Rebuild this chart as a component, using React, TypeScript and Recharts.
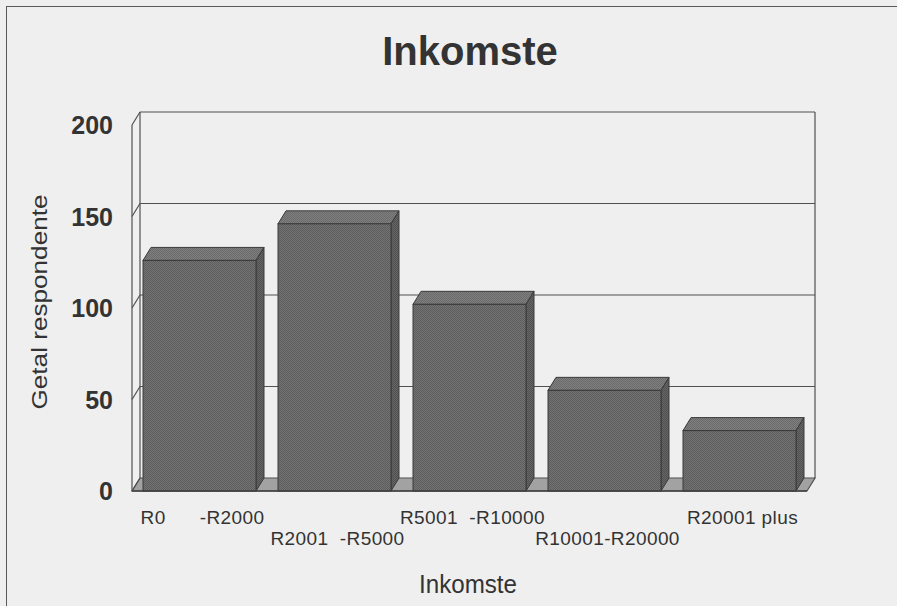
import React from "react";
import { BarChart, Bar, XAxis, YAxis, CartesianGrid, Label } from "recharts";

// Income brackets and number of respondents in each
const categories = ["R0      -R2000", "R2001  -R5000", "R5001  -R10000", "R10001-R20000", "R20001 plus"];
const respondents = [126, 146, 102, 55, 33];
const yTicks = [0, 50, 100, 150, 200];

const data = categories.map((name, i) => ({ name, value: respondents[i] }));

const W = 897;
const H = 606;
const PLOT_LEFT = 132;
const PLOT_TOP = 125;
const PLOT_RIGHT = 807;
const PLOT_BOTTOM = 491;
// depth of the pseudo-3D box (back wall offset from the front plane)
const DX = 8;
const DY = -13;

const FONT = "'Liberation Sans', Arial, sans-serif";
const LINE = "#505050";

const Column3D = (props: any) => {
  const { x, y, width, height } = props;
  if (!height || height <= 0) return null;
  const r = x + width;
  const b = y + height;
  return (
    <g stroke="#3a3a3a" strokeWidth={1}>
      <polygon
        points={`${x},${y} ${x + DX},${y + DY} ${r + DX},${y + DY} ${r},${y}`}
        fill="url(#topDots) #7a7a7a"
      />
      <polygon
        points={`${r},${y} ${r + DX},${y + DY} ${r + DX},${b + DY} ${r},${b}`}
        fill="url(#sideDots) #5c5c5c"
      />
      <rect x={x} y={y} width={width} height={height} fill="url(#frontDots) #6c6c6c" />
    </g>
  );
};

// each horizontal grid line becomes a back-wall line plus the slanted tick on the side wall
const WallLine = (props: any) => {
  const { x1, x2, y1, index } = props;
  const atFloor = Math.abs(y1 - PLOT_BOTTOM) < 1;
  const atTop = Math.abs(y1 - PLOT_TOP) < 1;
  return (
    <g key={`wall-${index}`} stroke={LINE} strokeWidth={1.2}>
      {atFloor ? (
        <polygon
          points={`${x1},${y1} ${x1 + DX},${y1 + DY} ${x2 + DX},${y1 + DY} ${x2},${y1}`}
          fill="#a2a2a2"
        />
      ) : (
        <line x1={x1 + DX} y1={y1 + DY} x2={x2 + DX} y2={y1 + DY} />
      )}
      <line x1={x1} y1={y1} x2={x1 + DX} y2={y1 + DY} />
      {atTop && (
        <>
          <line x1={x1 + DX} y1={y1 + DY} x2={x1 + DX} y2={PLOT_BOTTOM + DY} />
          <line x1={x2 + DX} y1={y1 + DY} x2={x2 + DX} y2={PLOT_BOTTOM + DY} />
        </>
      )}
    </g>
  );
};

const YTick = (props: any) => {
  const { y, payload } = props;
  return (
    <text
      x={PLOT_LEFT - 19}
      y={y}
      dy={9}
      textAnchor="end"
      fontFamily={FONT}
      fontWeight="bold"
      fontSize={25}
      fill="#333"
    >
      {payload.value}
    </text>
  );
};

// category labels alternate between two rows
const XTick = (props: any) => {
  const { x, payload, index } = props;
  const baseline = PLOT_BOTTOM + (index % 2 === 0 ? 33 : 54);
  return (
    <text
      x={x + 3}
      y={baseline}
      textAnchor="middle"
      fontFamily={FONT}
      fontSize={19}
      letterSpacing={0.4}
      fill="#333"
      xmlSpace="preserve"
      style={{ whiteSpace: "pre" }}
    >
      {payload.value}
    </text>
  );
};

const App = () => {
  return (
    <div
      style={{
        position: "fixed",
        left: 0,
        top: 0,
        width: W,
        height: H,
        overflow: "hidden",
        background: "#efefef",
      }}
    >
      <div
        style={{
          position: "absolute",
          left: 6,
          top: 6,
          width: W + 40,
          height: H + 40,
          border: "1.5px solid #5a5a5a",
        }}
      />
      <div
        style={{
          position: "absolute",
          left: 0,
          top: 31,
          width: 2 * 470,
          textAlign: "center",
          fontFamily: FONT,
          fontWeight: "bold",
          fontSize: 40,
          lineHeight: "40px",
          color: "#333",
        }}
      >
        Inkomste
      </div>
      <BarChart
        width={W}
        height={H}
        data={data}
        margin={{ top: PLOT_TOP, right: W - PLOT_RIGHT, bottom: 0, left: 0 }}
        style={{ position: "absolute", left: 0, top: 0 }}
      >
        <defs>
          <pattern id="frontDots" width="2" height="2" patternUnits="userSpaceOnUse">
            <rect width="2" height="2" fill="#737373" />
            <rect width="1" height="1" fill="#5d5d5d" />
            <rect x="1" y="1" width="1" height="1" fill="#5d5d5d" />
          </pattern>
          <pattern id="topDots" width="2" height="2" patternUnits="userSpaceOnUse">
            <rect width="2" height="2" fill="#808080" />
            <rect width="1" height="1" fill="#6a6a6a" />
            <rect x="1" y="1" width="1" height="1" fill="#6a6a6a" />
          </pattern>
          <pattern id="sideDots" width="2" height="2" patternUnits="userSpaceOnUse">
            <rect width="2" height="2" fill="#666" />
            <rect width="1" height="1" fill="#505050" />
            <rect x="1" y="1" width="1" height="1" fill="#505050" />
          </pattern>
        </defs>
        <CartesianGrid vertical={false} horizontal={WallLine} />
        <XAxis
          dataKey="name"
          height={H - PLOT_BOTTOM}
          interval={0}
          tickLine={false}
          tickSize={0}
          tickMargin={0}
          axisLine={{ stroke: "#404040", strokeWidth: 1.5 }}
          tick={<XTick />}
        >
          <Label
            value="Inkomste"
            content={() => (
              <text
                x={468}
                y={593}
                textAnchor="middle"
                fontFamily={FONT}
                fontSize={25}
                textLength={98}
                lengthAdjust="spacingAndGlyphs"
                fill="#333"
              >
                Inkomste
              </text>
            )}
          />
        </XAxis>
        <YAxis
          type="number"
          domain={[0, 200]}
          ticks={yTicks}
          interval={0}
          width={PLOT_LEFT}
          tickLine={false}
          axisLine={{ stroke: LINE, strokeWidth: 1.2 }}
          tick={<YTick />}
        >
          <Label
            value="Getal respondente"
            content={() => (
              <text
                x={0}
                y={0}
                transform="translate(47, 302) rotate(-90)"
                textAnchor="middle"
                fontFamily={FONT}
                fontSize={22}
                textLength={215}
                lengthAdjust="spacingAndGlyphs"
                fill="#333"
              >
                Getal respondente
              </text>
            )}
          />
        </YAxis>
        <Bar dataKey="value" barSize={113} shape={<Column3D />} isAnimationActive={false} />
      </BarChart>
    </div>
  );
};

export default App;
